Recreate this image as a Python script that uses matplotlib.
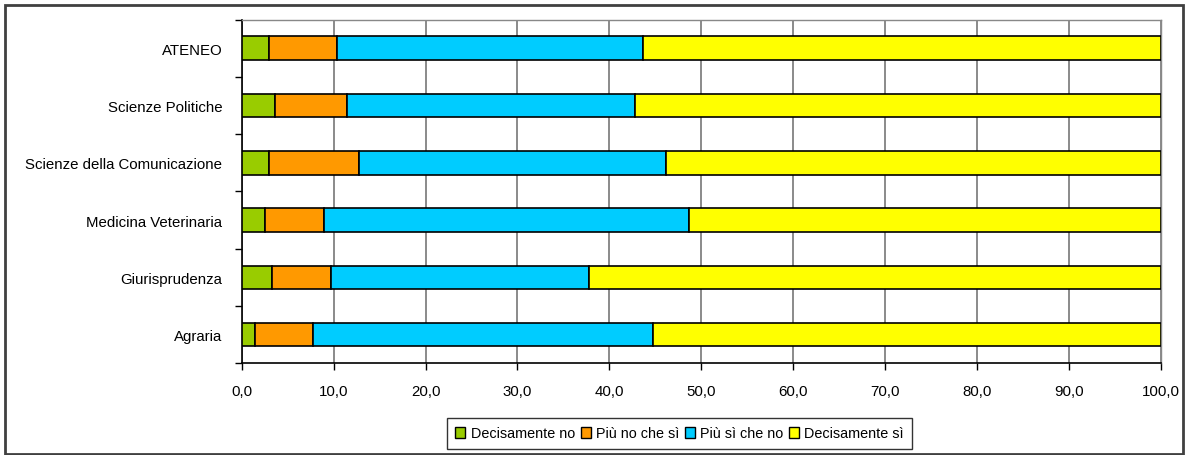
import matplotlib.pyplot as plt
import numpy as np
from matplotlib.patches import Rectangle

plt.rcParams['font.family'] = ['Liberation Sans', 'DejaVu Sans']

faculties = ['ATENEO', 'Scienze Politiche', 'Scienze della Comunicazione',
             'Medicina Veterinaria', 'Giurisprudenza', 'Agraria']
dec_no = [3.0, 3.6, 3.0, 2.5, 3.3, 1.5]
piu_no = [7.4, 7.9, 9.8, 6.4, 6.4, 6.3]
piu_si = [33.3, 31.3, 33.4, 39.8, 28.1, 36.9]
dec_si = [56.3, 57.2, 53.8, 51.3, 62.2, 55.3]

series = [dec_no, piu_no, piu_si, dec_si]
labels = ['Decisamente no', 'Più no che sì', 'Più sì che no', 'Decisamente sì']
colors = ['#99CC00', '#FF9900', '#00CCFF', '#FFFF00']

fig = plt.figure(figsize=(11.93, 4.56), dpi=100)
fig.patches.append(Rectangle((5 / 1193, 1 / 456), 1178 / 1193, 449 / 456,
                             transform=fig.transFigure, fill=False,
                             edgecolor='#404040', linewidth=2))
ax = fig.add_axes([0.2026, 0.2011, 0.7704, 0.7539])

y = np.arange(len(faculties))[::-1]
left = np.zeros(len(faculties))
for vals, lab, col in zip(series, labels, colors):
    ax.barh(y, vals, left=left, height=0.41, color=col, edgecolor='black',
            linewidth=1.2, label=lab, zorder=3)
    left += np.array(vals)

ax.set_xlim(0, 100)
ax.set_ylim(-0.5, len(faculties) - 0.5)
ax.set_xticks(np.arange(0, 101, 10))
ax.set_xticklabels([f'{v:.1f}'.replace('.', ',') for v in np.arange(0, 101, 10)])
ax.set_yticks(y)
ax.set_yticklabels(faculties)
ax.set_yticks(np.arange(-0.5, len(faculties), 1), minor=True)
ax.tick_params(axis='y', which='major', length=0, pad=14, labelsize=10.8)
ax.tick_params(axis='y', which='minor', length=5, width=1, color='black')
ax.tick_params(axis='x', length=5, width=1, pad=10, labelsize=10.8)
ax.grid(axis='x', color='#777777', linewidth=1.2, zorder=0)

for s in ['left', 'bottom']:
    ax.spines[s].set_color('black')
    ax.spines[s].set_linewidth(1.2)
for s in ['top', 'right']:
    ax.spines[s].set_color('#888888')
    ax.spines[s].set_linewidth(1)

leg = fig.legend(loc='center', bbox_to_anchor=(679.5 / 1193, 1 - 434.5 / 456),
                 ncol=4, frameon=True, fontsize=10.4, handlelength=0.7,
                 handleheight=0.7, handletextpad=0.35, columnspacing=0.4,
                 borderpad=0.6, borderaxespad=0, fancybox=False)
leg.get_frame().set_edgecolor('black')
leg.get_frame().set_linewidth(1)
for h in leg.legend_handles:
    h.set_linewidth(1)

fig.savefig('out.png', dpi=100)
